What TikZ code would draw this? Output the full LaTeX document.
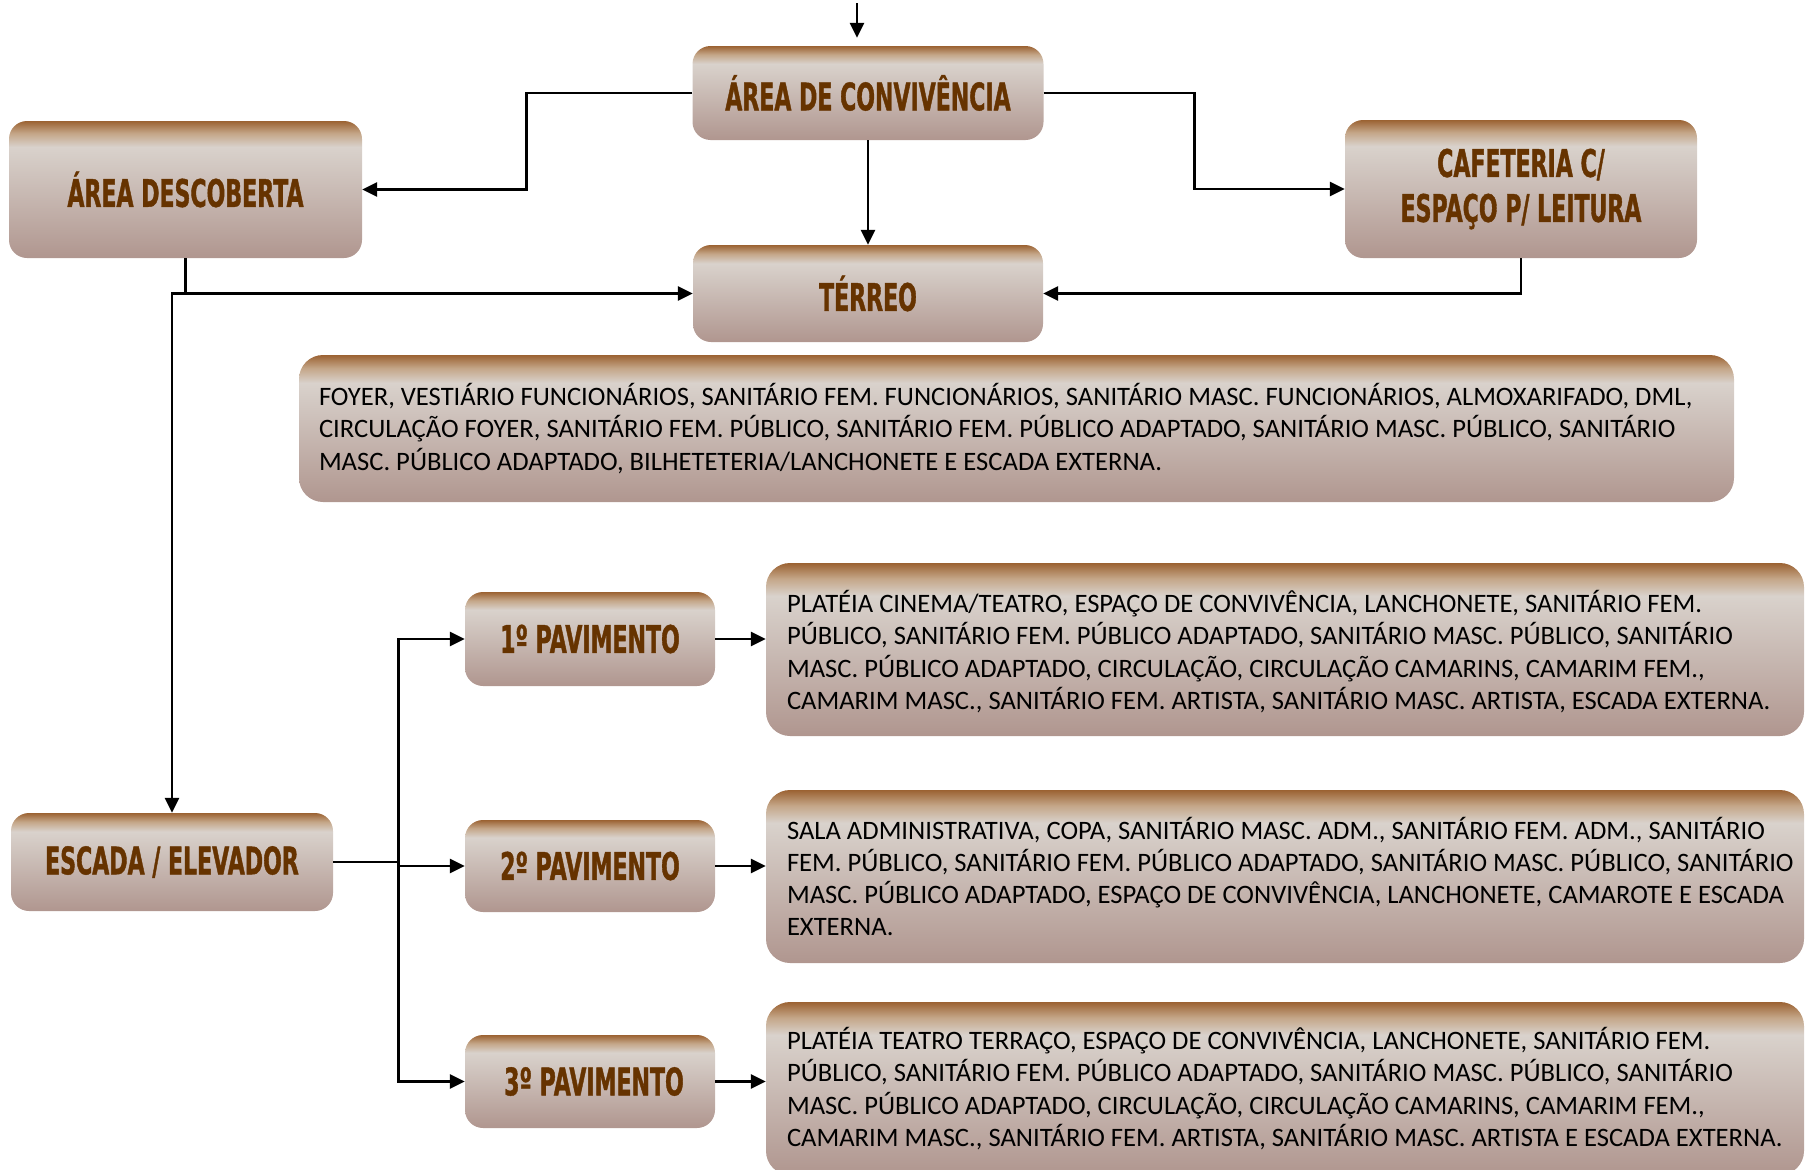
\documentclass[tikz,border=0pt]{standalone}
\usepackage{fontspec}
\setmainfont{Carlito}
\newfontfamily\titlefont[FakeStretch=0.58,FakeBold=1]{DejaVu Sans Bold}
\usetikzlibrary{arrows.meta,calc}
\definecolor{shbot}{RGB}{176,150,143}
\definecolor{shlight}{RGB}{217,210,204}
\definecolor{shtan}{RGB}{196,166,136}
\definecolor{shtop}{RGB}{155,98,50}
\definecolor{titlebrown}{HTML}{663300}
\pgfdeclareverticalshading{boxshade}{100bp}{color(0bp)=(shbot); color(25bp)=(shbot); color(65.5bp)=(shlight); color(70.5bp)=(shtan); color(75bp)=(shtop); color(100bp)=(shtop)}
\tikzset{
  box/.style={rounded corners=18pt, shading=boxshade, inner sep=0pt, draw=none},
  titlebox/.style={box, text=titlebrown, font=\titlefont\fontsize{38}{45}\selectfont, align=center},
  infobox/.style={box, rounded corners=24pt},
  infotext/.style={anchor=west, align=left, inner sep=0pt, font=\fontsize{26.6}{32.3}\selectfont},
  arr/.style={line width=2.6pt, -{Triangle[length=15pt,width=14pt]}},
  ln/.style={line width=2.6pt},
}
\begin{document}
\begin{tikzpicture}[x=1pt,y=-1pt]
\useasboundingbox (0,0) rectangle (1810,1170);
% title boxes
\node[titlebox, minimum width=351pt, minimum height=94pt] (conv) at (868,93) {ÁREA DE CONVIVÊNCIA};
\node[titlebox, minimum width=353pt, minimum height=137pt] (desc) at (185.5,189.5) {ÁREA DESCOBERTA};
\node[titlebox, minimum width=352pt, minimum height=138pt] (cafe) at (1521,189) {\parbox{340pt}{\centering CAFETERIA C/\\ESPAÇO P/ LEITURA}};
\node[titlebox, minimum width=350pt, minimum height=97pt] (terreo) at (868,293.5) {TÉRREO};
\node[titlebox, minimum width=322pt, minimum height=98pt] (escada) at (172,862) {ESCADA / ELEVADOR};
\node[titlebox, minimum width=250pt, minimum height=94pt] (p1) at (590,639) {1º PAVIMENTO};
\node[titlebox, minimum width=250pt, minimum height=92pt] (p2) at (590,866) {2º PAVIMENTO};
\node[titlebox, minimum width=250pt, minimum height=93pt] (p3) at (590,1081.5) {\hspace*{8pt}3º PAVIMENTO};
% info boxes
\node[infobox, minimum width=1435pt, minimum height=147pt] (foyer) at (1016.5,428.5) {};
\node[infotext] (foyertxt) at ([xshift=20pt]foyer.west) {FOYER, VESTIÁRIO FUNCIONÁRIOS, SANITÁRIO FEM. FUNCIONÁRIOS, SANITÁRIO MASC. FUNCIONÁRIOS, ALMOXARIFADO, DML,\\CIRCULAÇÃO FOYER, SANITÁRIO FEM. PÚBLICO, SANITÁRIO FEM. PÚBLICO ADAPTADO, SANITÁRIO MASC. PÚBLICO, SANITÁRIO\\MASC. PÚBLICO ADAPTADO, BILHETETERIA/LANCHONETE E ESCADA EXTERNA.};
\node[infobox, minimum width=1038pt, minimum height=173pt] (t1) at (1285,649.5) {};
\node[infotext] (t1txt) at ([xshift=21pt,yshift=-2pt]t1.west) {PLATÉIA CINEMA/TEATRO, ESPAÇO DE CONVIVÊNCIA, LANCHONETE, SANITÁRIO FEM.\\PÚBLICO, SANITÁRIO FEM. PÚBLICO ADAPTADO, SANITÁRIO MASC. PÚBLICO, SANITÁRIO\\MASC. PÚBLICO ADAPTADO, CIRCULAÇÃO, CIRCULAÇÃO CAMARINS, CAMARIM FEM.,\\CAMARIM MASC., SANITÁRIO FEM. ARTISTA, SANITÁRIO MASC. ARTISTA, ESCADA EXTERNA.};
\node[infobox, minimum width=1038pt, minimum height=173pt] (t2) at (1285,876.5) {};
\node[infotext] (t2txt) at ([xshift=21pt]t2.west) {SALA ADMINISTRATIVA, COPA, SANITÁRIO MASC. ADM., SANITÁRIO FEM. ADM., SANITÁRIO\\FEM. PÚBLICO, SANITÁRIO FEM. PÚBLICO ADAPTADO, SANITÁRIO MASC. PÚBLICO, SANITÁRIO\\MASC. PÚBLICO ADAPTADO, ESPAÇO DE CONVIVÊNCIA, LANCHONETE, CAMAROTE E ESCADA\\EXTERNA.};
\node[infobox, minimum width=1038pt, minimum height=173pt] (t3) at (1285,1088.5) {};
\node[infotext] (t3txt) at ([xshift=21pt]t3.west) {PLATÉIA TEATRO TERRAÇO, ESPAÇO DE CONVIVÊNCIA, LANCHONETE, SANITÁRIO FEM.\\PÚBLICO, SANITÁRIO FEM. PÚBLICO ADAPTADO, SANITÁRIO MASC. PÚBLICO, SANITÁRIO\\MASC. PÚBLICO ADAPTADO, CIRCULAÇÃO, CIRCULAÇÃO CAMARINS, CAMARIM FEM.,\\CAMARIM MASC., SANITÁRIO FEM. ARTISTA, SANITÁRIO MASC. ARTISTA E ESCADA EXTERNA.};
% connectors
\coordinate (topin) at (857,3);
\draw[arr, shorten >=8pt] (topin) -- (topin |- conv.north);
\draw[arr] (conv.west) -- ++(-166,0) |- (desc.east);
\draw[arr] (conv.east) -- ++(151,0) |- (cafe.west);
\draw[arr] (conv.south) -- (terreo.north);
\draw[arr] (desc.south) |- (terreo.west);
\draw[arr] (desc.south |- terreo.west) -| (escada.north);
\draw[arr] (cafe.south) |- (terreo.east);
\draw[ln] (escada.east) -- ++(65,0) coordinate (jn);
\draw[arr] (jn) |- (p1.west);
\draw[arr] (jn) |- (p3.west);
\draw[arr] (jn |- p2.west) -- (p2.west);
\draw[arr] (p1.east) -- (p1.east -| t1.west);
\draw[arr] (p2.east) -- (p2.east -| t2.west);
\draw[arr] (p3.east) -- (p3.east -| t3.west);
\end{tikzpicture}
\end{document}
